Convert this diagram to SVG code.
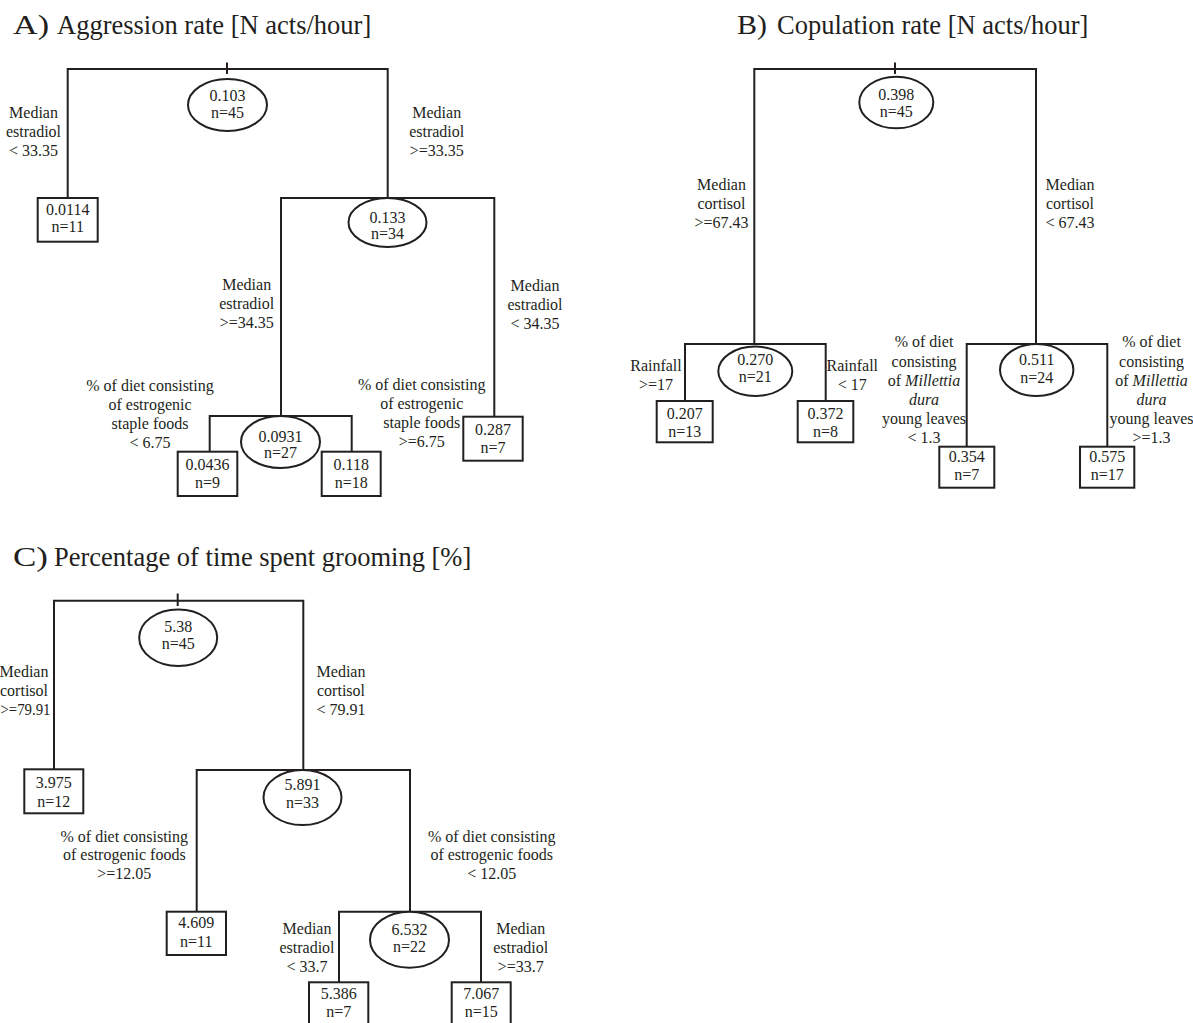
<svg xmlns="http://www.w3.org/2000/svg" width="1193" height="1023" viewBox="0 0 1193 1023">
<style>
.ln{fill:none;stroke:#231f20;stroke-width:2}
.nd{fill:#fff;stroke:#231f20;stroke-width:2}
.t{font-family:"Liberation Serif","Times New Roman",serif;font-size:16px;fill:#231f20;text-anchor:middle}
.ttl{font-family:"Liberation Serif","Times New Roman",serif;font-size:26.5px;fill:#231f20}
.i{font-style:italic}
</style>
<rect width="1193" height="1023" fill="#fff"/>
<g id="titles">
<text class="ttl" x="13" y="34" textLength="36" lengthAdjust="spacingAndGlyphs">A)</text>
<text class="ttl" x="57" y="34">Aggression rate [N acts/hour]</text>
<text class="ttl" x="737" y="34" textLength="30" lengthAdjust="spacingAndGlyphs">B)</text>
<text class="ttl" x="777" y="34">Copulation rate [N acts/hour]</text>
<text class="ttl" x="13" y="566" textLength="35" lengthAdjust="spacingAndGlyphs">C)</text>
<text class="ttl" x="54" y="566">Percentage of time spent grooming [%]</text>
</g>
<g id="connectors">
<path class="ln" d="M67.7,198 V69 H387.7 V198"/>
<path class="ln" d="M227,62.5 V74"/>
<path class="ln" d="M281,416 V198 H494.3 V416.7"/>
<path class="ln" d="M209.7,451.7 V416 H351.7 V451.7"/>
<path class="ln" d="M754.3,344 V69 H1036 V344"/>
<path class="ln" d="M895,62.5 V74"/>
<path class="ln" d="M685,401 V344 H825.7 V401"/>
<path class="ln" d="M966.7,446.7 V344 H1107.3 V446.7"/>
<path class="ln" d="M54,769.3 V600.7 H303.3 V770"/>
<path class="ln" d="M177.7,593.5 V606"/>
<path class="ln" d="M196.7,911.7 V770 H410 V911.7"/>
<path class="ln" d="M339,982.3 V911.7 H481 V982.3"/>
</g>
<g id="edge-labels">
<text class="t" x="33.5" y="118">Median</text><text class="t" x="33.5" y="137">estradiol</text><text class="t" x="33.5" y="156">&lt; 33.35</text>
<text class="t" x="436.7" y="118">Median</text><text class="t" x="436.7" y="137">estradiol</text><text class="t" x="436.7" y="156">&gt;=33.35</text>
<text class="t" x="246.7" y="290">Median</text><text class="t" x="246.7" y="309">estradiol</text><text class="t" x="246.7" y="328">&gt;=34.35</text>
<text class="t" x="535" y="291">Median</text><text class="t" x="535" y="310">estradiol</text><text class="t" x="535" y="329">&lt; 34.35</text>
<text class="t" x="150" y="391">% of diet consisting</text><text class="t" x="150" y="410">of estrogenic</text><text class="t" x="150" y="429">staple foods</text><text class="t" x="150" y="448">&lt; 6.75</text>
<text class="t" x="421.7" y="390">% of diet consisting</text><text class="t" x="421.7" y="409">of estrogenic</text><text class="t" x="421.7" y="428">staple foods</text><text class="t" x="421.7" y="447">&gt;=6.75</text>
<text class="t" x="721.5" y="190">Median</text><text class="t" x="721.5" y="209">cortisol</text><text class="t" x="721.5" y="228">&gt;=67.43</text>
<text class="t" x="1070" y="190">Median</text><text class="t" x="1070" y="209">cortisol</text><text class="t" x="1070" y="228">&lt; 67.43</text>
<text class="t" x="656" y="371">Rainfall</text><text class="t" x="656" y="390">&gt;=17</text>
<text class="t" x="852.3" y="371">Rainfall</text><text class="t" x="852.3" y="390">&lt; 17</text>
<text class="t" x="924" y="347">% of diet</text><text class="t" x="924" y="367">consisting</text><text class="t" x="924" y="386">of <tspan class="i">Millettia</tspan></text><text class="t i" x="924" y="405">dura</text><text class="t" x="924" y="424">young leaves</text><text class="t" x="924" y="443">&lt; 1.3</text>
<text class="t" x="1151.5" y="347">% of diet</text><text class="t" x="1151.5" y="367">consisting</text><text class="t" x="1151.5" y="386">of <tspan class="i">Millettia</tspan></text><text class="t i" x="1151.5" y="405">dura</text><text class="t" x="1151.5" y="424">young leaves</text><text class="t" x="1151.5" y="443">&gt;=1.3</text>
<text class="t" x="24" y="677">Median</text><text class="t" x="24" y="696">cortisol</text><text class="t" x="25.5" y="715" textLength="50" lengthAdjust="spacingAndGlyphs">&gt;=79.91</text>
<text class="t" x="341" y="677">Median</text><text class="t" x="341" y="696">cortisol</text><text class="t" x="341" y="715">&lt; 79.91</text>
<text class="t" x="124.3" y="841.7">% of diet consisting</text><text class="t" x="124.3" y="860">of estrogenic foods</text><text class="t" x="124.3" y="879">&gt;=12.05</text>
<text class="t" x="491.7" y="841.7">% of diet consisting</text><text class="t" x="491.7" y="860">of estrogenic foods</text><text class="t" x="491.7" y="879">&lt; 12.05</text>
<text class="t" x="307" y="934">Median</text><text class="t" x="307" y="953">estradiol</text><text class="t" x="307" y="972">&lt; 33.7</text>
<text class="t" x="520.7" y="934">Median</text><text class="t" x="520.7" y="953">estradiol</text><text class="t" x="520.7" y="972">&gt;=33.7</text>
</g>
<g id="A-root"><ellipse class="nd" cx="227.5" cy="105" rx="39.5" ry="26"/><text class="t" x="227.5" y="101">0.103</text><text class="t" x="227.5" y="118">n=45</text></g>
<g id="A-leaf-0.0114"><rect class="nd" x="37.7" y="198" width="60" height="43.7"/><text class="t" x="67.7" y="215">0.0114</text><text class="t" x="67.7" y="232">n=11</text></g>
<g id="A-node-0.133"><ellipse class="nd" cx="387.5" cy="222.5" rx="39" ry="24.5"/><text class="t" x="387.5" y="222.5">0.133</text><text class="t" x="387.5" y="239">n=34</text></g>
<g id="A-node-0.0931"><ellipse class="nd" cx="280.5" cy="442" rx="39.5" ry="26"/><text class="t" x="280.5" y="441.7">0.0931</text><text class="t" x="280.5" y="458.3">n=27</text></g>
<g id="A-leaf-0.0436"><rect class="nd" x="177.7" y="451.7" width="59.6" height="44.3"/><text class="t" x="207.5" y="470">0.0436</text><text class="t" x="207.5" y="488.3">n=9</text></g>
<g id="A-leaf-0.118"><rect class="nd" x="321.7" y="451.7" width="59" height="44.3"/><text class="t" x="351.2" y="470">0.118</text><text class="t" x="351.2" y="488.3">n=18</text></g>
<g id="A-leaf-0.287"><rect class="nd" x="463.3" y="416.7" width="59.4" height="44"/><text class="t" x="493" y="435">0.287</text><text class="t" x="493" y="452.7">n=7</text></g>
<g id="B-root"><ellipse class="nd" cx="896.3" cy="102.5" rx="37" ry="25.8"/><text class="t" x="896.3" y="100">0.398</text><text class="t" x="896.3" y="116.7">n=45</text></g>
<g id="B-node-0.270"><ellipse class="nd" cx="755.3" cy="371.3" rx="37" ry="24.7"/><text class="t" x="755.3" y="365">0.270</text><text class="t" x="755.3" y="381.7">n=21</text></g>
<g id="B-leaf-0.207"><rect class="nd" x="656.7" y="401" width="56" height="41.3"/><text class="t" x="684.7" y="419.3">0.207</text><text class="t" x="684.7" y="436.7">n=13</text></g>
<g id="B-leaf-0.372"><rect class="nd" x="797.7" y="401" width="55.6" height="41.3"/><text class="t" x="825.5" y="419.3">0.372</text><text class="t" x="825.5" y="436.7">n=8</text></g>
<g id="B-node-0.511"><ellipse class="nd" cx="1036.7" cy="370" rx="36.7" ry="26"/><text class="t" x="1036.7" y="365">0.511</text><text class="t" x="1036.7" y="382.7">n=24</text></g>
<g id="B-leaf-0.354"><rect class="nd" x="939.3" y="446.7" width="55" height="41"/><text class="t" x="966.8" y="461.7">0.354</text><text class="t" x="966.8" y="480">n=7</text></g>
<g id="B-leaf-0.575"><rect class="nd" x="1080" y="446.7" width="54.3" height="41"/><text class="t" x="1107.2" y="461.7">0.575</text><text class="t" x="1107.2" y="480">n=17</text></g>
<g id="C-root"><ellipse class="nd" cx="178.2" cy="637.7" rx="39" ry="28.3"/><text class="t" x="178.2" y="632.3">5.38</text><text class="t" x="178.2" y="649">n=45</text></g>
<g id="C-leaf-3.975"><rect class="nd" x="24.3" y="769.3" width="59" height="44"/><text class="t" x="53.8" y="788">3.975</text><text class="t" x="53.8" y="806.7">n=12</text></g>
<g id="C-node-5.891"><ellipse class="nd" cx="302.5" cy="797.5" rx="39" ry="27.5"/><text class="t" x="302.5" y="790">5.891</text><text class="t" x="302.5" y="808">n=33</text></g>
<g id="C-leaf-4.609"><rect class="nd" x="166.7" y="911.7" width="59.3" height="43.3"/><text class="t" x="196.3" y="928.3">4.609</text><text class="t" x="196.3" y="946.7">n=11</text></g>
<g id="C-node-6.532"><ellipse class="nd" cx="409.5" cy="939.7" rx="39.5" ry="28"/><text class="t" x="409.5" y="935">6.532</text><text class="t" x="409.5" y="952.3">n=22</text></g>
<g id="C-leaf-5.386"><rect class="nd" x="309" y="982.3" width="59.3" height="44"/><text class="t" x="338.7" y="999">5.386</text><text class="t" x="338.7" y="1017.3">n=7</text></g>
<g id="C-leaf-7.067"><rect class="nd" x="451.7" y="982.3" width="59" height="44"/><text class="t" x="481.2" y="999">7.067</text><text class="t" x="481.2" y="1017.3">n=15</text></g>
</svg>
